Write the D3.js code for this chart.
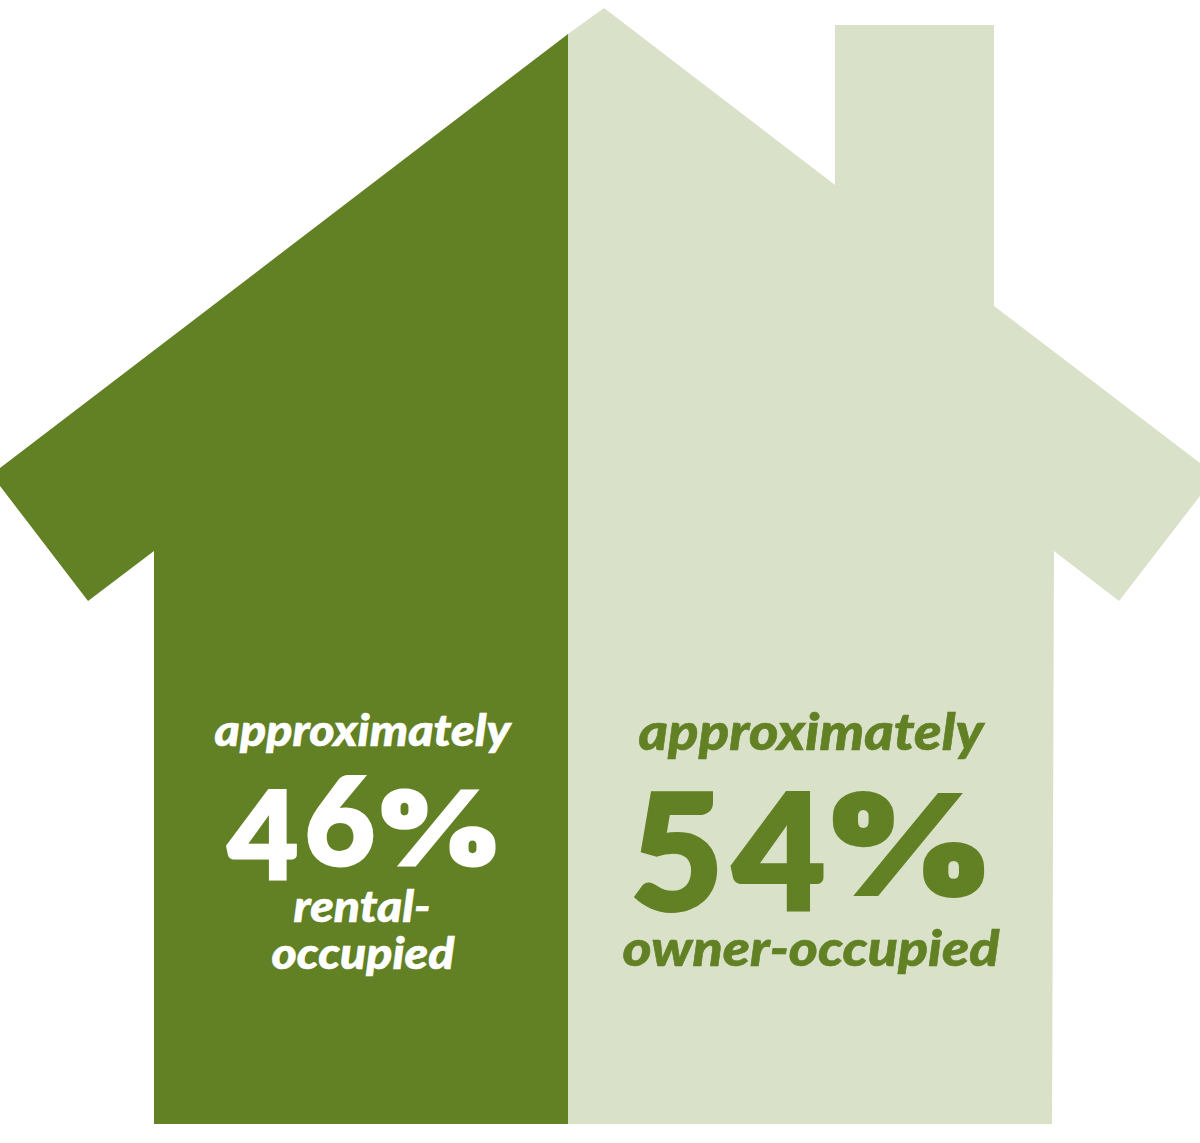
<!DOCTYPE html>
<html>
<head>
<meta charset="utf-8">
<script src="https://cdn.jsdelivr.net/npm/d3@7"></script>
<style>
  html, body { margin: 0; background: #fff; }
  svg { display: block; }
  text { font-family: Lato, sans-serif; font-weight: 900; stroke-linejoin: miter; }
  .percent-sign { font-family: Inter, sans-serif; }
</style>
</head>
<body>
<svg id="chart" width="1200" height="1143"></svg>
<script>
// Housing tenure shares, in percent
const tenures = ["rental", "owner"];
const shares = [46, 54];
const qualifier = "approximately";
const tenureLines = [["rental-", "occupied"], ["owner-occupied"]];

// Silhouette of the house: x in percent of the body width, y in percent of its height
const outlineX = [46, -17.11, -17.11, -7.33, 0, 0, 99.78, 100, 107.22, 116.22, 116.22, 93.33, 93.33, 75.67, 75.67, 50];
const outlineY = [2.33, 41.22, 42.83, 53.14, 48.66, 100, 100, 48.66, 53.14, 43.73, 40.77, 26.70, 1.52, 1.52, 15.86, 0];

const colors = { rental: "#628024", owner: "#d9e1c8" };
const ink = { rental: "#ffffff", owner: "#628024" };

const svg = d3.select("#chart");
const width = +svg.attr("width");
const height = +svg.attr("height");

const x = d3.scaleLinear().domain([0, 100]).range([154, 1054]);
const y = d3.scaleLinear().domain([0, 100]).range([8, 1124]);

const outline = d3.line().x(i => x(outlineX[i])).y(i => y(outlineY[i])).curve(d3.curveLinearClosed);
const outlinePath = outline(d3.range(outlineX.length));

// Cut the silhouette at the cumulative share of each tenure
const cuts = [x.invert(0), ...d3.cumsum(shares).slice(0, -1), x.invert(width)];
const defs = svg.append("defs");
tenures.forEach((t, i) => {
  defs.append("clipPath").attr("id", `clip-${t}`)
    .append("rect")
    .attr("x", x(cuts[i]))
    .attr("y", 0)
    .attr("width", x(cuts[i + 1]) - x(cuts[i]))
    .attr("height", height);
  svg.append("path")
    .attr("d", outlinePath)
    .attr("fill", colors[t])
    .attr("clip-path", `url(#clip-${t})`);
});

// Text placement for each tenure panel
const layout = {
  rental: {
    head: { cx: 362.5, base: 746, size: 44, len: 296 },
    lines: [
      { cx: 362, base: 922, size: 44, len: 137 },
      { cx: 363, base: 969, size: 44, len: 183 }
    ],
    bold: 3,
    glyphs: [
      { cx: 263, base: 878.5, size: 122 },
      { cx: 340, base: 864.5, size: 122 },
      { cx: 438.5, base: 864.5, size: 102, len: 128 }
    ]
  },
  owner: {
    head: { cx: 811, base: 750, size: 52, len: 345 },
    lines: [
      { cx: 811, base: 966, size: 50, len: 377 }
    ],
    bold: 4,
    glyphs: [
      { cx: 677, base: 910, size: 160 },
      { cx: 779, base: 910, size: 160 },
      { cx: 908.5, base: 894, size: 136, len: 170 }
    ]
  }
};

tenures.forEach((t, i) => {
  const g = svg.append("g").attr("fill", ink[t]).attr("stroke", ink[t]).attr("text-anchor", "middle");
  const l = layout[t];

  const italic = (str, p) => g.append("text")
    .attr("x", p.cx).attr("y", p.base)
    .attr("font-size", p.size)
    .attr("font-style", "italic")
    .attr("stroke-width", 0.6)
    .attr("textLength", p.len)
    .attr("lengthAdjust", "spacingAndGlyphs")
    .text(str);

  italic(qualifier, l.head);
  tenureLines[i].forEach((str, k) => italic(str, l.lines[k]));

  // Share value, with each figure sitting on its own old-style baseline
  const value = g.append("text").attr("stroke-width", l.bold);
  Array.from(`${shares[i]}%`).forEach((ch, k) => {
    const p = l.glyphs[k];
    const span = value.append("tspan")
      .attr("x", p.cx).attr("y", p.base)
      .attr("font-size", p.size)
      .text(ch);
    if (p.len) span.attr("class", "percent-sign").attr("textLength", p.len).attr("lengthAdjust", "spacingAndGlyphs");
  });
});
</script>
</body>
</html>
